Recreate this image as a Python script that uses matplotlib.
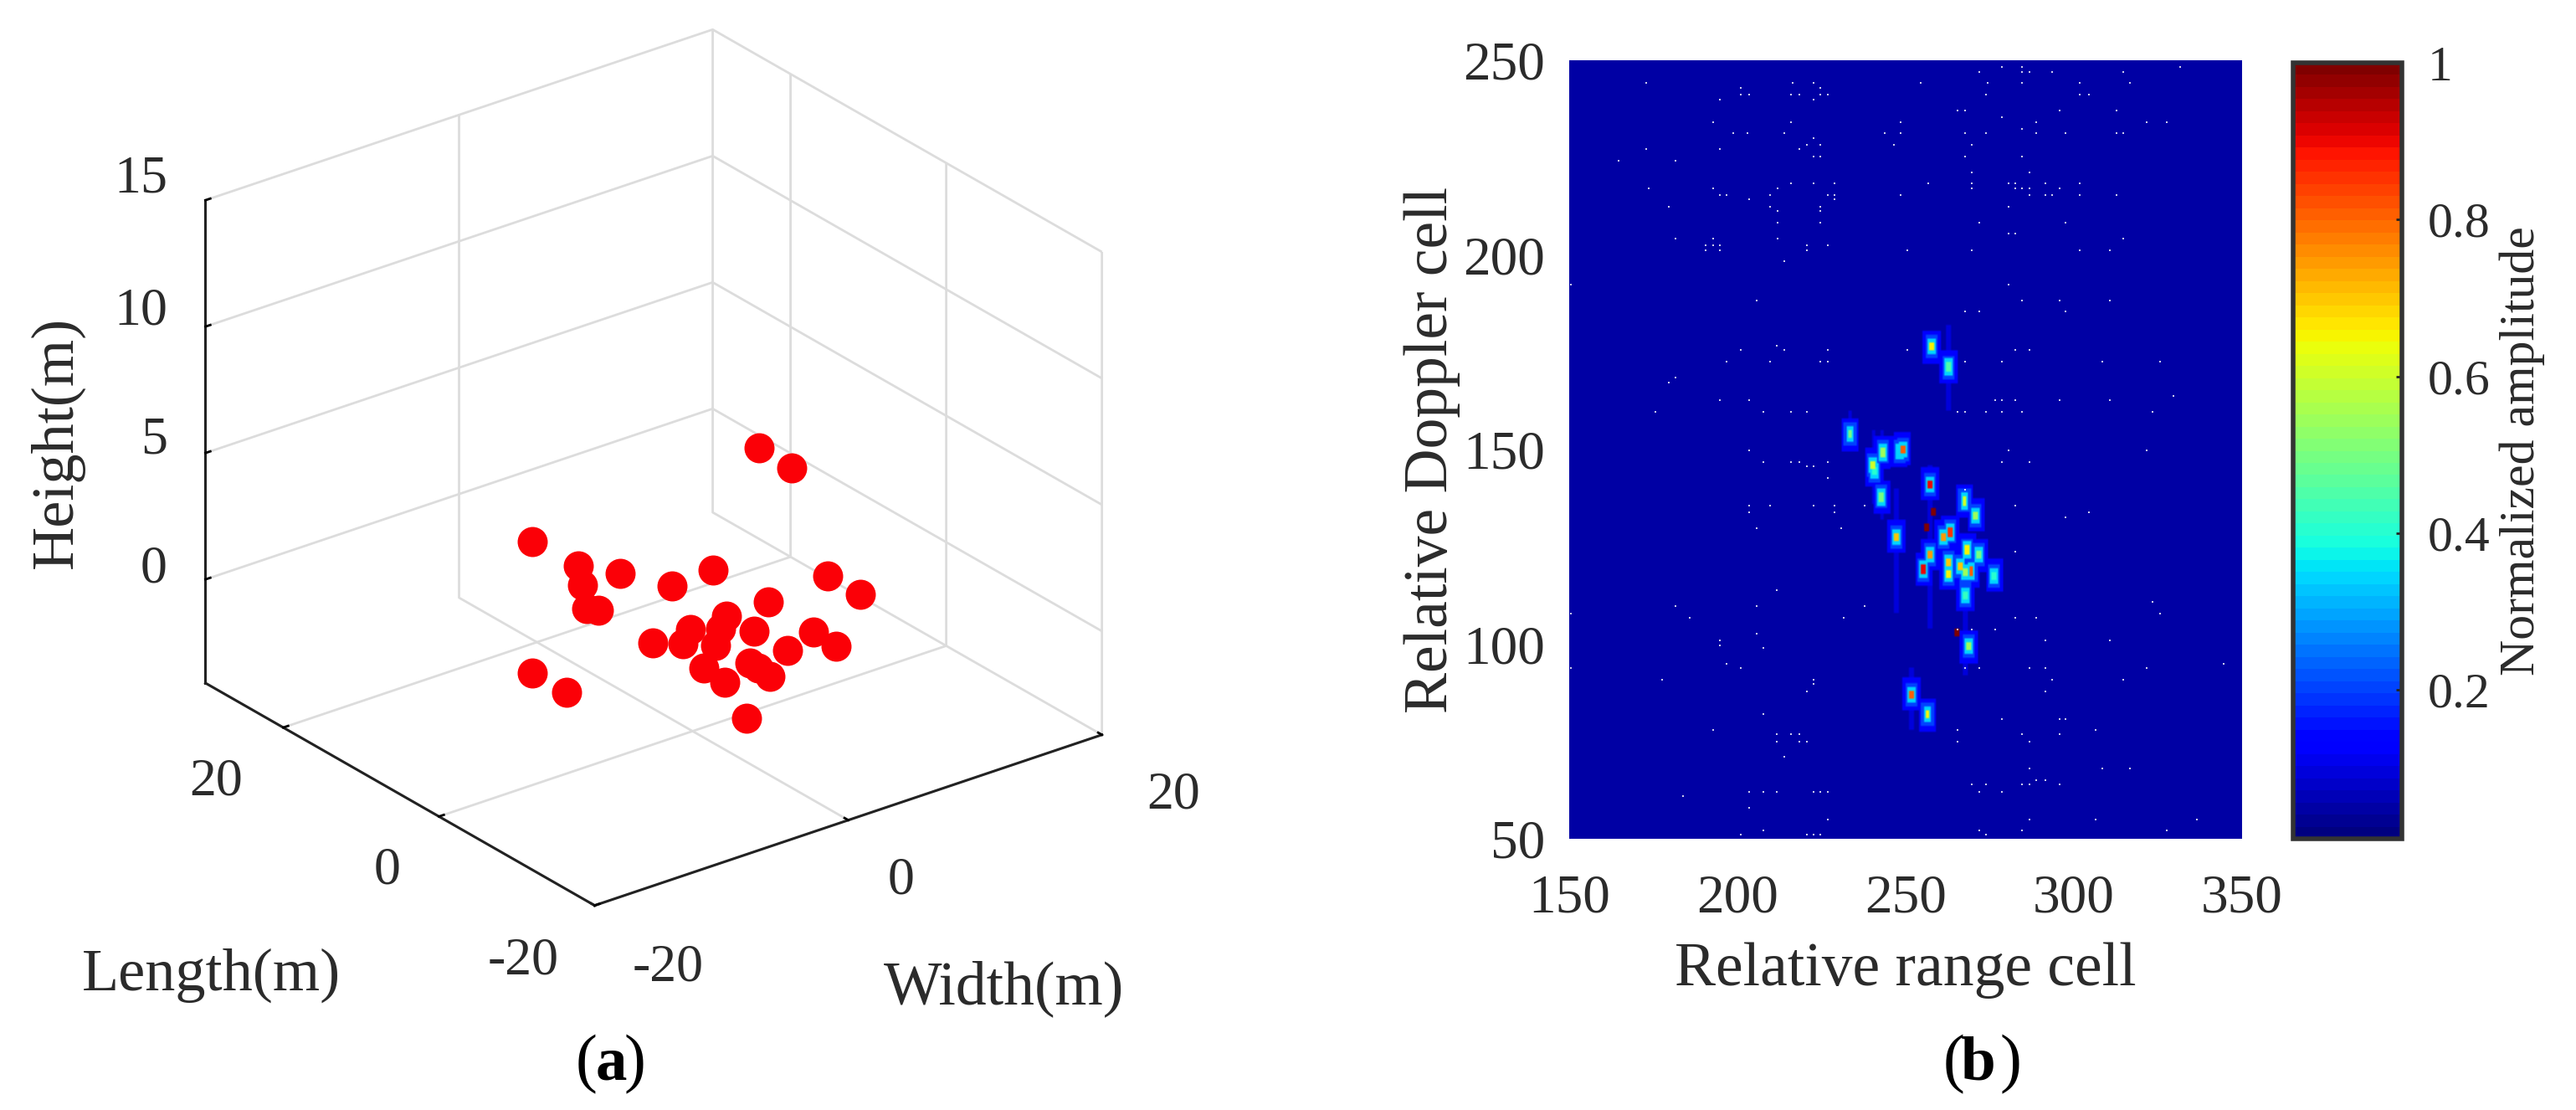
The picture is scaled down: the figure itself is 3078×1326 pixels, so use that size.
import numpy as np
import matplotlib
matplotlib.use("Agg")
import matplotlib.pyplot as plt

plt.rcParams['font.family'] = ['Liberation Serif', 'DejaVu Serif']

W, H = 3078, 1326
TXT = "#2b2b2b"

# panel a, scatterers
width_m = [18.9, 18.8, -0.5, -0.3, 1.1, -1.8, -3.6, -3.2, 2.6, 6.0, 11.2, 11.2, 6.0, 2.7, 1.3, -0.3,
           2.7, 5.6, 5.5, 2.7, -3.3, -1.9, -0.4, -0.2, -0.3, -0.4, -3.0, -3.2, -11.9, -11.9, -5.2]
length_m = [22.2, 17.9, 19.8, 14.2, 11.1, 11.2, 7.7, 6.9, 6.9, 7.1, 0.9, -3.3, 0.0, 0.0, -1.5, -0.2,
            -3.5, -6.4, -9.5, -7.8, -0.3, -1.9, -3.6, -7.7, -8.9, -10.6, -6.3, -9.3, 1.2, -3.2, -15.4]
height_m = [0.0] * 31
width_ticks = [-20, 0, 20]
length_ticks = [-20, 0, 20]
height_ticks = [0, 5, 10, 15]

# panel b, strong spots (range cell, doppler cell, amplitude, glow around it)
spot_range = [257.9, 262.7, 233.5, 243.1, 240.4, 240.7, 249.1, 248.1, 257.2, 242.9, 267.5, 270.9, 258.1, 256.3,
              247.2, 263.3, 261.2, 257.3, 268.2, 271.7, 262.8, 262.7, 255.4, 266.1, 267.8, 269.5, 276.4, 267.8,
              265.3, 268.7, 251.7, 256.5]
spot_doppler = [176.4, 171.2, 153.9, 149.3, 146.1, 144.5, 150.1, 149.5, 141.1, 137.8, 136.8, 133.1, 133.9, 129.9,
                127.6, 128.8, 127.6, 123.0, 124.2, 122.9, 121.1, 118.0, 119.2, 120.1, 118.4, 118.8, 117.6, 112.5,
                103.0, 99.4, 87.1, 81.9]
spot_amp = [0.65, 0.45, 0.5, 0.55, 0.6, 0.4, 0.8, 0.35, 0.9, 0.5, 0.6, 0.55, 1.0, 1.0,
            0.7, 0.85, 0.75, 0.75, 0.65, 0.5, 0.7, 0.65, 0.9, 0.7, 0.55, 0.8, 0.4, 0.42,
            1.0, 0.55, 0.8, 0.65]
spot_glow = [1, 1, 1, 1, 1, 1, 1, 1, 1, 1, 1, 1, 0, 0,
             1, 1, 1, 1, 1, 1, 1, 1, 1, 1, 1, 1, 1, 1,
             0, 1, 1, 1]

# faint vertical smears below and above the spots
smear_range = [247.2, 233.5, 243.1, 257.2, 262.7, 267.8, 240.5, 251.7]
smear_low = [108, 150, 132, 104, 160, 92, 136, 78]
smear_high = [140, 160, 155, 146, 182, 125, 155, 94]

# white specks, one list of range cells per doppler row
speck_doppler = [248.2, 246.9, 244.1, 242.9, 241.1, 240.0, 237.0, 235.3, 234.1, 232.3, 231.2, 230.0, 228.2, 227.1,
                 225.3, 224.2, 221.2, 218.3, 217.1, 215.3, 214.2, 212.4, 211.2, 208.3, 205.4, 204.2, 202.4, 201.2,
                 198.4, 192.4, 188.3, 185.4, 176.6, 175.5, 172.6, 168.4, 167.3, 163.7, 162.6, 159.7, 149.7, 146.8,
                 145.6, 142.7, 139.7, 135.6, 133.8, 132.6, 129.7, 123.8, 113.8, 110.8, 109.7, 107.9, 106.7, 103.8,
                 102.6, 100.9, 99.7, 99.1, 95.0, 93.8, 90.9, 89.7, 87.9, 82.1, 80.8, 78.0, 76.8, 75.0, 71.0, 68.0,
                 65.1, 63.9, 62.1, 60.9, 58.0, 55.0, 52.1, 51.0]
speck_range = [[278.5, 284.7, 331.7], [271.8, 284.7, 286.8, 293.5, 314.8],
               [172.8, 216.5, 222.6, 254.6, 274.5, 284.7, 301.7, 316.7], [201, 224.7],
               [201, 203.5, 215.8, 218.5, 224.7, 226.8, 273.9, 301.7, 304.5], [194.8, 222.6],
               [265.5, 267.7, 295.8, 312.6], [278.5], [192.7, 215.8, 248.6, 288.8, 321.6, 327.7], [284.7],
               [198.8, 202.9, 213.9, 243.8, 248.6, 267.7, 273.9, 288.8, 297.6, 312.6, 314.6], [222.6],
               [220.6, 224.7, 246.5, 269.7], [172.8, 194.8, 218.5], [222.6, 224.7, 267.7, 284.7], [164.7, 181.7],
               [269.7, 286.8], [215.8, 222.6, 228.8, 256.7, 269.7, 280.6, 282.6, 291.5, 301.7],
               [173.6, 192.7, 211.9, 269.7, 282.6, 284.7, 286.8, 295.8],
               [194.8, 196.7, 209.7, 226.8, 228.8, 248.6, 286.8, 291.5, 293.5, 301.7, 312.6], [203.5, 228.8],
               [179.7, 209.7, 224.7, 280.6], [211.9, 224.7], [211.9, 224.7, 271.8, 297.6], [280.6, 282.6],
               [181.7, 192.7, 211.9, 314.8], [190.6, 192.7, 194.8, 220.6, 226.8],
               [190.6, 194.8, 220.6, 250.6, 269.7, 301.7, 310.6], [213.9], [150.4, 280.6],
               [205.6, 284.7, 295.8, 310.6], [267.7, 271.8, 297.6], [211.7],
               [201, 213.9, 226.8, 250.6, 282.6, 286.8], [196.7, 209.7, 224.7, 226.8, 267.7, 278.5, 308.5, 325.6],
               [181.7], [179.7], [329.6], [194.8, 203.5, 276.5, 278.5, 282.6, 295.8, 310.6],
               [175.5, 207.7, 215.8, 220.6, 265.5, 267.7, 273.9, 278.5, 284.7, 323.5], [203.5, 280.6, 321.6],
               [207.7, 215.8, 218.5, 226.8, 278.5, 286.8], [220.6, 222.6], [226.8], [267.7],
               [203.5, 209.7, 222.6, 228.8, 237.7, 282.6], [203.5, 228.8, 304.5], [297.6], [205.6, 230.9], [282.6],
               [211.7], [323.5], [181.7, 205.6, 237.7], [150.4, 325.6], [185.9, 231.5, 282.6, 288.8],
               [265.5, 269.7, 276.5], [205.6], [194.8, 291.5, 310.6], [194.8], [207.7], [196.7, 344.6],
               [150.4, 201, 267.7, 271.8, 286.8, 291.5, 321.6], [177.6, 222.6, 293.5, 314.8], [222.6],
               [220.6, 291.5], [207.7], [278.5, 295.8, 297.6], [192.7, 265.5, 306.5],
               [211.7, 215.8, 218.5, 284.7, 295.8], [211.7, 218.5, 220.6, 265.5, 286.8], [213.9],
               [286.8, 308.5, 316.7], [288.8, 291.5], [269.7, 273.9, 284.7, 286.8, 295.8],
               [203.5, 207.7, 211.7, 222.6, 224.7, 226.8, 271.8, 278.5], [183.8], [203.5],
               [226.8, 286.8, 306.5, 336.5], [207.7, 271.8, 284.7, 327.7], [201, 220.6, 222.6, 224.7, 273.9]]

amp_ticks = [0.2, 0.4, 0.6, 0.8, 1]
range_ticks = [150, 200, 250, 300, 350]
doppler_ticks = [50, 100, 150, 200, 250]

fig = plt.figure(figsize=(W / 100, H / 100), dpi=100, facecolor="white")


def px(x, y):
    return x / W, 1 - y / H


def ptext(x, y, s, **kw):
    kw.setdefault("ha", "center")
    kw.setdefault("va", "center")
    kw.setdefault("color", TXT)
    fig.text(*px(x, y), s, **kw)


# (a)
ax = fig.add_axes([0.0484, 0.1064, 0.40, 0.92], projection="3d", proj_type="ortho")
ax.patch.set_alpha(0)
ax.view_init(elev=26, azim=-127.5)
ax.set_box_aspect((1, 1, 0.84), zoom=1.0)
ax.set_xlim(-20, 20)
ax.set_ylim(-20, 30)
ax.set_zlim(-4.1, 15)
ax.set_xticks(width_ticks)
ax.set_yticks(length_ticks)
ax.set_zticks(height_ticks)
ax.set_xticklabels([])
ax.set_yticklabels([])
ax.set_zticklabels([])
for axis in (ax.xaxis, ax.yaxis, ax.zaxis):
    axis.set_pane_color((1, 1, 1, 0))
    axis.pane.set_edgecolor("#d9d9d9")
    axis.pane.set_linewidth(2)
    axis.line.set_color("#222222")
    axis.line.set_linewidth(2.2)
    axis._axinfo["grid"].update(color="#dcdcdc", linewidth=2, linestyle="-")
    axis._axinfo["tick"].update(inward_factor=0.0, outward_factor=0.12, linewidth={True: 2, False: 1}, color="#222222")
ax.grid(True)
ax.scatter(width_m, length_m, height_m, s=670, c="#fb0007", linewidths=0, depthshade=False, alpha=1)

for s, x, y in zip(width_ticks, [798, 1077, 1402], [1157, 1052, 950]):
    ptext(x, y, str(s), fontsize=46)
for s, x, y in zip(length_ticks, [625, 463, 258], [1148, 1040, 934]):
    ptext(x, y, str(s), fontsize=46)
for s, y in zip(height_ticks, [681, 527, 373, 215]):
    ptext(200, y, str(s), fontsize=46, ha="right")
ptext(252, 1165, "Length(m)", fontsize=52)
ptext(1200, 1181, "Width(m)", fontsize=53)
ptext(68, 528, "Height(m)", fontsize=52, rotation=90)
ptext(688, 1272, "(", fontsize=56, ha="left", color="black")
ptext(712, 1272, "a", fontsize=54, ha="left", fontweight="bold", color="black")
ptext(746, 1272, ")", fontsize=56, ha="left", color="black")

# (b)
cell = 0.5
amp = np.full((400, 400), 0.05)


def paint(r0, r1, d0, d1, a):
    j0, j1 = int((r0 - 150) / cell), int(np.ceil((r1 - 150) / cell))
    i0, i1 = int((d0 - 50) / cell), int(np.ceil((d1 - 50) / cell))
    amp[i0:i1, j0:j1] = np.maximum(amp[i0:i1, j0:j1], a)


for r, lo, hi in zip(smear_range, smear_low, smear_high):
    paint(r - 0.4, r + 0.4, lo, hi, 0.1)
for r, d, a, g in zip(spot_range, spot_doppler, spot_amp, spot_glow):
    if g:
        paint(r - 2.4, r + 2.4, d - 4.0, d + 4.0, 0.12)
        paint(r - 1.6, r + 1.6, d - 2.8, d + 2.8, 0.2)
        paint(r - 1.0, r + 1.0, d - 1.9, d + 1.9, 0.34)
    paint(r - 0.5, r + 0.5, d - 0.9, d + 0.9, a)

left, right, top, bottom = 1875, 2679, 72, 1002
bx = fig.add_axes([left / W, 1 - bottom / H, (right - left) / W, (bottom - top) / H])
im = bx.imshow(amp, origin="lower", extent=(150, 350, 50, 250), cmap=plt.get_cmap("jet", 64), vmin=0.01, vmax=1,
               aspect="auto", interpolation="bilinear")
for d, rr in zip(speck_doppler, speck_range):
    bx.plot(rr, [d] * len(rr), ls="", marker="s", ms=2.0, color="white", mew=0, alpha=0.8)
bx.set_xlim(150, 350)
bx.set_ylim(50, 250)
bx.set_xticks(range_ticks)
bx.set_yticks(doppler_ticks)
bx.tick_params(length=0, labelsize=47, labelcolor=TXT)
bx.tick_params(axis="x", pad=30)
bx.tick_params(axis="y", pad=21)
for s in bx.spines.values():
    s.set_visible(False)
bx.set_xlabel("Relative range cell", fontsize=53, color=TXT, labelpad=16)
bx.set_ylabel("Relative Doppler cell", fontsize=53, color=TXT, labelpad=2)

cax = fig.add_axes([2740 / W, 1 - 1002 / H, (2870 - 2740) / W, (1002 - 75) / H])
cb = fig.colorbar(im, cax=cax)
cb.set_ticks(amp_ticks)
cb.set_ticklabels(["0.2", "0.4", "0.6", "0.8", "1"])
cax.tick_params(direction="in", length=5, width=2, color="#222222", labelsize=43, labelcolor=TXT, pad=22)
cb.outline.set_edgecolor("#333333")
cb.outline.set_linewidth(4)
cb.set_label("Normalized amplitude", fontsize=43, color=TXT, labelpad=8)

ptext(2322, 1272, "(", fontsize=56, ha="left", color="black")
ptext(2343, 1272, "b", fontsize=54, ha="left", fontweight="bold", color="black")
ptext(2390, 1272, ")", fontsize=56, ha="left", color="black")

fig.savefig("out.png", dpi=100)
